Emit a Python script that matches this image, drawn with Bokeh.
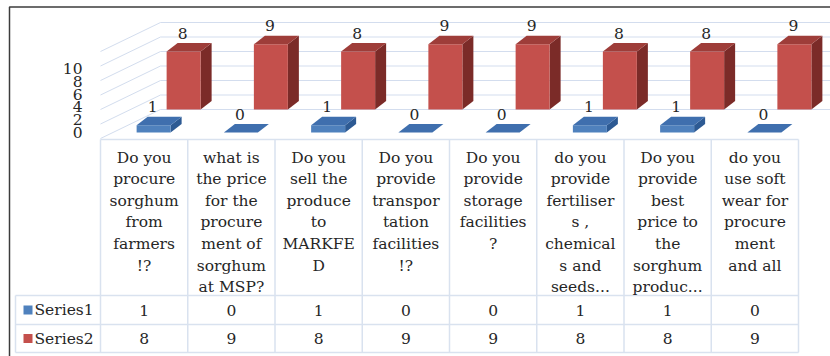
from bokeh.plotting import figure
from bokeh.models import Range1d
from bokeh.core.properties import value
from bokeh.embed import file_html
from bokeh.resources import INLINE

# ---------------- data ----------------
categories = [
    "Do you\nprocure\nsorghum\nfrom\nfarmers\n!?",
    "what is\nthe price\nfor the\nprocure\nment of\nsorghum\nat MSP?",
    "Do you\nsell the\nproduce\nto\nMARKFE\nD",
    "Do you\nprovide\ntranspor\ntation\nfacilities\n!?",
    "Do you\nprovide\nstorage\nfacilities\n?",
    "do you\nprovide\nfertiliser\ns ,\nchemical\ns and\nseeds...",
    "Do you\nprovide\nbest\nprice to\nthe\nsorghum\nproduc...",
    "do you\nuse soft\nwear for\nprocure\nment\nand all",
]
series_names = ["Series1", "Series2"]
series1 = [1, 0, 1, 0, 0, 1, 1, 0]
series2 = [8, 9, 8, 9, 9, 8, 8, 9]
y_ticks = [0, 2, 4, 6, 8, 10]
wall_grid = [0, 2, 4, 6, 8, 10, 12]

# ---------------- layout constants ----------------
W, H = 830, 356
PXX = 87.25          # px per category
PXY = 7.25           # px per value unit
X0 = -0.5 - 100 / PXX
BASE_PIX = 109
FONT = value("DejaVu Serif")
FS = "15.5px"
TXT = "#262626"
GRID = "#d3ddee"
TBL = "#d9e2ef"

ROW_DX = 30 / PXX
ROW_DY = 23 / PXY
BAR_W = 34 / PXX
BAR_DX = 11 / PXX
BAR_DY = 8.5 / PXY
FRONT_OFF = 9.5 / PXX
WALL_BACK_X = -0.5 + 60 / PXX


def to_px(x):
    return (x - X0) * PXX


p = figure(width=W, height=H, output_backend="svg", toolbar_location=None,
           x_range=Range1d(X0, X0 + W / PXX),
           y_range=Range1d(-(H - BASE_PIX) / PXY, BASE_PIX / PXY),
           x_axis_location=None, y_axis_location=None,
           min_border=0, outline_line_color=None,
           background_fill_color="white", border_fill_color="white")
p.grid.visible = False
p.extra_x_ranges = {"px": Range1d(0, W)}
p.extra_y_ranges = {"tbl": Range1d(H, 0),
                    "axis": Range1d((132 - H) / 6.4, 132 / 6.4)}

# ---------------- walls ----------------
for v in wall_grid:
    p.line([-0.5, WALL_BACK_X], [v - 4.0, v], line_color=GRID, line_width=1)
    p.line([WALL_BACK_X, X0 + W / PXX], [v, v], line_color=GRID, line_width=1)

# ---------------- 3D bars ----------------
styles = [
    dict(front="#4f81bd", top="#3f6fae", side="#2d5a93"),
    dict(front="#c4504c", top="#9e3d39", side="#7b2b28"),
]
for r, vals in ((1, series2), (0, series1)):
    st = styles[r]
    base = -(1 - r) * ROW_DY
    fx, fy, tx, ty, sx, sy = [], [], [], [], [], []
    for i, v in enumerate(vals):
        xc = i + FRONT_OFF + r * ROW_DX
        x0, x1 = xc - BAR_W / 2, xc + BAR_W / 2
        top = base + v
        if v > 0:
            fx.append([x0, x1, x1, x0]); fy.append([base, base, top, top])
            sx.append([x1, x1 + BAR_DX, x1 + BAR_DX, x1])
            sy.append([base, base + BAR_DY, top + BAR_DY, top])
        tx.append([x0, x1, x1 + BAR_DX, x0 + BAR_DX])
        ty.append([top, top, top + BAR_DY, top + BAR_DY])
    if fx:
        p.patches(sx, sy, fill_color=st["side"], line_color=None)
        p.patches(fx, fy, fill_color=st["front"], line_color=None)
    p.patches(tx, ty, fill_color=st["top"], line_color=None)
    p.text([i + FRONT_OFF + r * ROW_DX - 0.01 for i in range(len(vals))],
           [base + v + 2.55 for v in vals], text=[str(v) for v in vals],
           text_font=FONT, text_font_size=FS, text_color=TXT,
           text_align="center", text_baseline="middle")

# ---------------- value axis labels ----------------
p.text([82] * len(y_ticks), y_ticks, text=[str(t) for t in y_ticks],
       x_range_name="px", y_range_name="axis",
       text_font=FONT, text_font_size=FS, text_color=TXT,
       text_align="right", text_baseline="middle")

# ---------------- data table ----------------
right_px = to_px(len(categories) - 0.5)
left_px = to_px(-0.5)
p.segment([left_px], [139], [right_px], [139], x_range_name="px",
          y_range_name="tbl", line_color=TBL, line_width=1.5)
p.segment([15] * 3, [295, 324, 352], [right_px] * 3, [295, 324, 352],
          x_range_name="px", y_range_name="tbl", line_color=TBL, line_width=1.5)
p.segment([15], [295], [15], [352], x_range_name="px", y_range_name="tbl",
          line_color=TBL, line_width=1.5)
bx = [to_px(k - 0.5) for k in range(len(categories) + 1)]
p.segment(bx, [139] * len(bx), bx, [352] * len(bx), x_range_name="px",
          y_range_name="tbl", line_color=TBL, line_width=1.5)

hx, hy, ht = [], [], []
for i, c in enumerate(categories):
    for k, line in enumerate(c.split("\n")):
        hx.append(to_px(i)); hy.append(157 + 21.6 * k); ht.append(line)
p.text(hx, hy, text=ht, x_range_name="px", y_range_name="tbl",
       text_font=FONT, text_font_size=FS, text_color=TXT,
       text_align="center", text_baseline="middle")

row_y = [309.5, 338]
for vals, ry in zip((series1, series2), row_y):
    p.text([to_px(i) for i in range(len(vals))], [ry] * len(vals),
           text=[str(v) for v in vals], x_range_name="px", y_range_name="tbl",
           text_font=FONT, text_font_size=FS, text_color=TXT,
           text_align="center", text_baseline="middle")

p.scatter([27.5, 27.5], row_y, marker="square", size=9,
          fill_color=[styles[0]["front"], styles[1]["front"]], line_color=None,
          x_range_name="px", y_range_name="tbl")
p.text([34, 34], row_y, text=series_names, x_range_name="px", y_range_name="tbl",
       text_font=FONT, text_font_size=FS, text_color=TXT,
       text_align="left", text_baseline="middle")

# ---------------- outer frame ----------------
p.line([W, 9, 9], [6.5, 6.5, H], x_range_name="px", y_range_name="tbl",
       line_color="#3c3c3c", line_width=1.5)

open("out.html", "w").write(file_html(p, INLINE))
